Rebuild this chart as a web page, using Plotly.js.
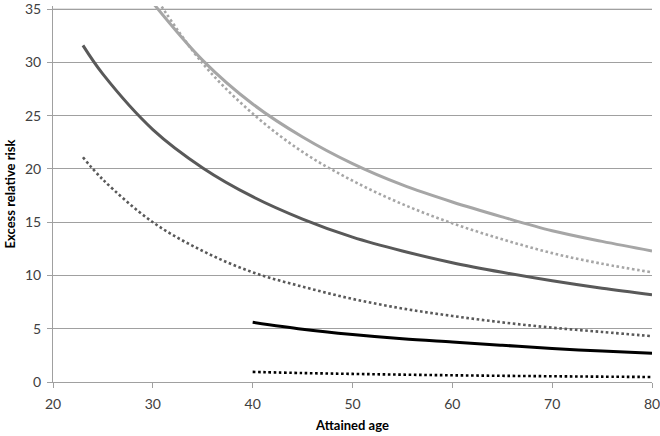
<!DOCTYPE html>
<html>
<head>
<meta charset="utf-8">
<script src="https://cdn.plot.ly/plotly-3.0.1.min.js"></script>
<style>html,body{margin:0;padding:0;background:#fff}#chart{width:660px;height:436px}</style>
</head>
<body>
<div id="chart"></div>
<script>
// Attained age values
var agesYoung = [23, 25, 30, 35, 40, 45, 50, 55, 60, 65, 70, 75, 80];
var agesHigh  = [30, 35, 40, 45, 50, 55, 60, 65, 70, 75, 80];
var agesOld   = [40, 45, 50, 55, 60, 65, 70, 75, 80];

// Series values (excess relative risk)
var lightSolid  = [35.6, 30.2, 26.1, 23.0, 20.5, 18.5, 16.9, 15.5, 14.2, 13.2, 12.3];
var lightDotted = [36.5, 29.9, 25.2, 21.6, 18.9, 16.7, 14.9, 13.4, 12.1, 11.1, 10.3];
var darkSolid   = [31.6, 28.9, 23.7, 20.1, 17.4, 15.3, 13.6, 12.3, 11.2, 10.3, 9.5, 8.8, 8.2];
var darkDotted  = [21.1, 19.0, 15.0, 12.3, 10.3, 8.95, 7.8, 6.9, 6.2, 5.6, 5.1, 4.7, 4.3];
var blackSolid  = [5.6, 4.95, 4.45, 4.05, 3.75, 3.45, 3.15, 2.9, 2.7];
var blackDotted = [0.95, 0.84, 0.76, 0.69, 0.63, 0.58, 0.54, 0.5, 0.47];
var yTicks = [0, 5, 10, 15, 20, 25, 30, 35];
var xTicks = [20, 30, 40, 50, 60, 70, 80];

var LIGHT = '#a6a6a6', DARK = '#595959', BLACK = '#000000', GRID = '#a0a0a0';
function tr(x, y, color, dotted) {
  return {x: x, y: y, type: 'scatter', mode: 'lines',
    line: {color: color, width: dotted ? 2.6 : 3, dash: dotted ? '2.6px,2.6px' : 'solid', shape: 'spline'},
    hoverinfo: 'skip', showlegend: false};
}
var data = [
  tr(agesHigh, lightSolid, LIGHT, false),
  tr(agesHigh, lightDotted, LIGHT, true),
  tr(agesYoung, darkSolid, DARK, false),
  tr(agesYoung, darkDotted, DARK, true),
  tr(agesOld, blackSolid, BLACK, false),
  tr(agesOld, blackDotted, BLACK, true)
];
var FAM = 'Lato, "Open Sans", sans-serif';
var tickFont = {family: FAM, size: 14, color: '#404040'};
var topTick = yTicks[yTicks.length - 1];
var layout = {
  width: 660, height: 436,
  margin: {l: 53, r: 8, t: 6, b: 54},
  paper_bgcolor: '#ffffff', plot_bgcolor: '#ffffff',
  shapes: [{type: 'line', layer: 'below', xref: 'paper', x0: 0, x1: 1, yref: 'y', y0: topTick, y1: topTick,
            line: {color: GRID, width: 1}}],
  xaxis: {
    range: [20, 80], tickvals: xTicks,
    showgrid: false, zeroline: false, showline: true, linecolor: GRID, linewidth: 1,
    ticks: 'outside', ticklen: 5, tickcolor: GRID, tickfont: tickFont, ticklabelstandoff: 4,
    ticklabeloverflow: 'allow',
    title: {text: '<b>Attained age</b>', font: {family: FAM, size: 13, color: '#000'}, standoff: 10}
  },
  yaxis: {
    range: [0, 35.3], tickvals: yTicks,
    showgrid: true, gridcolor: GRID, gridwidth: 1, zeroline: false,
    showline: true, linecolor: GRID, linewidth: 1,
    ticks: 'outside', ticklen: 5, tickcolor: GRID, tickfont: tickFont, ticklabelstandoff: 3,
    ticklabeloverflow: 'allow',
    title: {text: '<b>Excess relative risk</b>', font: {family: FAM, size: 13, color: '#000'}, standoff: 6}
  }
};
Plotly.newPlot('chart', data, layout, {staticPlot: true, displayModeBar: false});
</script>
</body>
</html>
